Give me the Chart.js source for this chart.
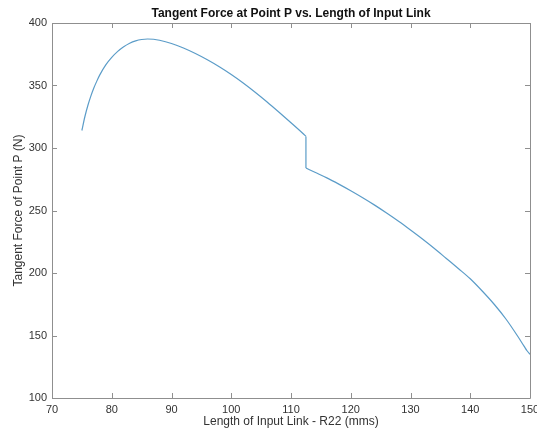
<!DOCTYPE html>
<html>
<head>
<meta charset="utf-8">
<script src="https://cdn.jsdelivr.net/npm/chart.js@4/dist/chart.umd.min.js"></script>
<style>
  html, body { margin: 0; padding: 0; background: #fff; }
  #wrap { width: 537px; height: 428px; position: relative; }
</style>
</head>
<body>
<div id="wrap"><canvas id="chart-force"></canvas></div>
<script>
// input link length R22 (mm)
const linkLength = [
    75, 75.5, 76, 76.5, 77, 77.5, 78, 79, 80, 81, 82, 83, 84, 85, 86, 87, 88,
    90, 92, 94, 96, 98, 100, 102, 104, 106, 108, 110, 112, 112.5,
    112.5, 114, 116, 118, 120, 122, 124, 126, 128, 130, 132, 134, 136, 138,
    140, 142, 144, 146, 148, 149, 149.5, 150
];
// tangent force at point P (N)
const tangentForce = [
    314, 325, 334, 341.5, 348, 353.5, 358.5, 366.5, 372.5, 377.3, 381, 383.8, 385.7, 386.8, 387.2, 387, 386.2,
    383.6, 380, 375.6, 370.6, 365, 358.8, 352, 344.6, 336.8, 328.6, 320.2, 311.6, 309.3,
    284, 280.6, 276.1, 271.1, 265.8, 260.2, 254.3, 248, 241.4, 234.4, 227.2, 219.6, 211.6, 203.6,
    195.4, 185.6, 175, 163, 149, 141.5, 137.8, 135
];
const xTicks = [70, 80, 90, 100, 110, 120, 130, 140, 150];
const yTicks = [100, 150, 200, 250, 300, 350, 400];

const titleText = 'Tangent Force at Point P vs. Length of Input Link';
const xTitle = 'Length of Input Link - R22 (mms)';
const yTitle = 'Tangent Force of Point P (N)';

const FONT = "'Liberation Sans', Arial, Helvetica, sans-serif";
const AXIS_COLOR = '#8f8f8f';
const TEXT_COLOR = '#333333';
const LINE_COLOR = '#5b9cc8';

// split the curve at the jump so each piece can be smoothed on its own
function segments() {
    const out = [[]];
    linkLength.forEach((x, i) => {
        const last = out[out.length - 1];
        if (last.length && last[last.length - 1].x === x) out.push([]);
        out[out.length - 1].push({ x: x, y: tangentForce[i] });
    });
    return out;
}

// matlab style box with inward ticks on all four sides
const boxPlugin = {
    id: 'matlabBox',
    afterDraw(chart) {
        const ctx = chart.ctx;
        const a = chart.chartArea;
        const xs = chart.scales.x;
        const ys = chart.scales.y;
        const len = 5;
        ctx.save();
        ctx.strokeStyle = AXIS_COLOR;
        ctx.lineWidth = 1;
        ctx.beginPath();
        ctx.rect(Math.round(a.left) + 0.5, Math.round(a.top) + 0.5,
            Math.round(a.right - a.left), Math.round(a.bottom - a.top));
        xTicks.forEach(v => {
            const px = Math.round(xs.getPixelForValue(v)) + 0.5;
            ctx.moveTo(px, a.bottom); ctx.lineTo(px, a.bottom - len);
            ctx.moveTo(px, a.top); ctx.lineTo(px, a.top + len);
        });
        yTicks.forEach(v => {
            const py = Math.round(ys.getPixelForValue(v)) + 0.5;
            ctx.moveTo(a.left, py); ctx.lineTo(a.left + len, py);
            ctx.moveTo(a.right, py); ctx.lineTo(a.right - len, py);
        });
        ctx.stroke();

        // title
        ctx.fillStyle = '#111';
        ctx.font = 'bold 12px ' + FONT;
        ctx.textAlign = 'center';
        ctx.textBaseline = 'middle';
        ctx.fillText(titleText, (a.left + a.right) / 2, 14);
        ctx.restore();
    }
};

const parts = segments();
const datasets = parts.map(p => ({
    data: p,
    borderColor: LINE_COLOR,
    borderWidth: 1.2,
    pointRadius: 0,
    cubicInterpolationMode: 'monotone',
    fill: false
}));
// vertical drop between the two pieces
datasets.push({
    data: [parts[0][parts[0].length - 1], parts[1][0]],
    borderColor: LINE_COLOR,
    borderWidth: 1.2,
    pointRadius: 0,
    fill: false
});

new Chart(document.getElementById('chart-force'), {
    type: 'line',
    data: { datasets: datasets },
    options: {
        responsive: true,
        maintainAspectRatio: false,
        animation: false,
        layout: { padding: { top: 23, right: 7, left: 0, bottom: 0 } },
        plugins: {
            legend: { display: false },
            tooltip: { enabled: false },
            title: { display: false }
        },
        scales: {
            x: {
                type: 'linear',
                min: 70,
                max: 150,
                afterBuildTicks: s => { s.ticks = xTicks.map(v => ({ value: v })); },
                afterFit: s => { s.height = 30; s.paddingLeft = 0; s.paddingRight = 0; },
                grid: { display: false, drawTicks: false },
                border: { display: false },
                ticks: {
                    padding: 5,
                    color: TEXT_COLOR,
                    font: { family: FONT, size: 11 },
                    maxRotation: 0
                },
                title: {
                    display: true,
                    text: xTitle,
                    color: TEXT_COLOR,
                    font: { family: FONT, size: 12 },
                    padding: { top: 0, bottom: -1 }
                }
            },
            y: {
                type: 'linear',
                min: 100,
                max: 400,
                afterBuildTicks: s => { s.ticks = yTicks.map(v => ({ value: v })); },
                afterFit: s => { s.width = 52; s.paddingTop = 0; s.paddingBottom = 0; },
                grid: { display: false, drawTicks: false },
                border: { display: false },
                ticks: {
                    padding: 5,
                    color: TEXT_COLOR,
                    font: { family: FONT, size: 11 }
                },
                title: {
                    display: true,
                    text: yTitle,
                    color: TEXT_COLOR,
                    font: { family: FONT, size: 12 },
                    padding: { top: 11, bottom: 0 }
                }
            }
        }
    },
    plugins: [boxPlugin]
});
</script>
</body>
</html>
